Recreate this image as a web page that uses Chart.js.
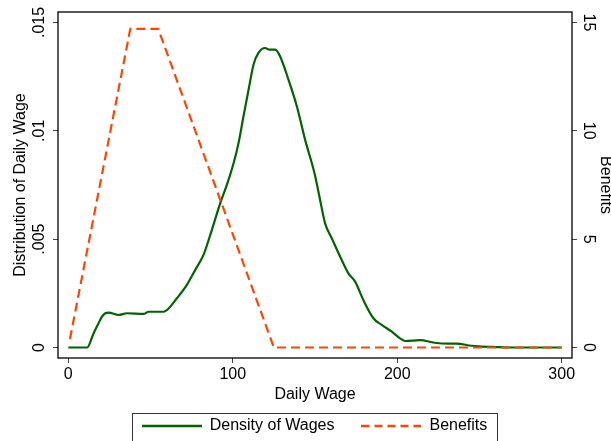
<!DOCTYPE html>
<html><head><meta charset="utf-8">
<script src="https://cdn.jsdelivr.net/npm/chart.js@4/dist/chart.umd.min.js"></script>
<style>html,body{margin:0;padding:0;background:#fff;}canvas{display:block}</style>
</head><body>
<canvas id="c" width="611" height="441"></canvas>
<script>
// ---- data ----
const wageX = [0, 10, 11.5, 15.4, 18.4, 20.5, 22.5, 24.5, 30.6, 35.6, 45.8, 48.8, 57.9, 60, 66, 72.1, 77.2, 82.2, 87.3, 92.4, 96.4, 100.5, 103.5, 106.5, 109.6, 112.6, 115.6, 119.7, 122.3, 125.8, 128.8, 133.9, 139, 144, 149.7, 153.1, 156.1, 160.2, 165.3, 170.3, 174.4, 179.4, 185.5, 190.6, 196.7, 201.7, 205, 213.9, 222.7, 231.5, 236, 245, 250, 260, 270, 300];
const densityY = [0, 0, 0, 0.00066, 0.00112, 0.00142, 0.00158, 0.00161, 0.0015, 0.00158, 0.00155, 0.00165, 0.00165, 0.00173, 0.00227, 0.00289, 0.00358, 0.00427, 0.00543, 0.00666, 0.0075, 0.0085, 0.00943, 0.01066, 0.01189, 0.01305, 0.01359, 0.01382, 0.01374, 0.01374, 0.01343, 0.01235, 0.01112, 0.00958, 0.00804, 0.00681, 0.00574, 0.00504, 0.00419, 0.00342, 0.00304, 0.00219, 0.00135, 0.00104, 0.00073, 0.00042, 0.0003, 0.00034, 0.00022, 0.00018, 0.00018, 0.00008, 0.00005, 0.00002, 0, 0];
const benefitX = [1, 37.7, 54.7, 125, 300];
const benefitY = [0.39, 14.7, 14.7, 0, 0];
const seriesNames = ['Density of Wages', 'Benefits'];
const xTicks = [0, 100, 200, 300];
const yTicks = [0, 0.005, 0.01, 0.015];
const yTickLabels = ['0', '.005', '.01', '.015'];
const y2Ticks = [0, 5, 10, 15];
const y2TickLabels = ['0', '5', '10', '15'];
const xTitle = 'Daily Wage';
const yTitle = 'Distribution of Daily Wage';
const y2Title = 'Benefits';

const FONT = "'Liberation Sans', Arial, Helvetica, sans-serif";
Chart.defaults.font.family = FONT;
Chart.defaults.font.size = 16;
Chart.defaults.color = '#000';

const GREEN = '#006400';
const ORANGE = '#ff4500';

// legend line samples
function lineSample(color, dash) {
  const cv = document.createElement('canvas');
  cv.width = 60; cv.height = 6;
  const g = cv.getContext('2d');
  g.strokeStyle = color; g.lineWidth = 2.4;
  g.setLineDash(dash);
  g.beginPath(); g.moveTo(0, 3); g.lineTo(60, 3); g.stroke();
  return cv;
}

const framePlugin = {
  id: 'framePlugin',
  afterDraw(chart) {
    const {ctx, chartArea: a} = chart;
    ctx.save();
    ctx.strokeStyle = '#000';
    ctx.lineWidth = 1.3;
    ctx.strokeRect(a.left, a.top, a.right - a.left, a.bottom - a.top);
    ctx.font = '16px ' + FONT;
    ctx.fillStyle = '#000';
    ctx.textAlign = 'center';
    ctx.textBaseline = 'middle';
    const ys = chart.scales.y;
    yTicks.forEach((v, i) => {
      const py = ys.getPixelForValue(v);
      ctx.save(); ctx.translate(a.left - 18, py); ctx.rotate(-Math.PI / 2);
      ctx.fillText(yTickLabels[i], 0, 0); ctx.restore();
    });
    const y2s = chart.scales.y2;
    y2Ticks.forEach((v, i) => {
      const py = y2s.getPixelForValue(v);
      ctx.save(); ctx.translate(a.right + 16, py); ctx.rotate(Math.PI / 2);
      ctx.fillText(y2TickLabels[i], 0, 0); ctx.restore();
    });
    // legend frame
    const hb = chart.legend.legendHitBoxes;
    if (hb && hb.length) {
      const first = hb[0], last = hb[hb.length - 1];
      const cy = first.top + first.height / 2;
      ctx.lineWidth = 1;
      ctx.strokeStyle = '#333';
      const l = Math.round(first.left - 10) + 0.5;
      const r = Math.round(last.left + last.width + 10) + 0.5;
      const t = Math.round(cy - 13) + 0.5;
      ctx.strokeRect(l, t, r - l, 40);
    }
    ctx.restore();
  }
};

new Chart(document.getElementById('c'), {
  type: 'line',
  data: {
    datasets: [
      {
        label: seriesNames[0],
        data: wageX.map((x, i) => ({x: x, y: densityY[i]})),
        yAxisID: 'y',
        borderColor: GREEN,
        backgroundColor: GREEN,
        borderWidth: 2.2,
        pointRadius: 0,
        pointStyle: lineSample(GREEN, []),
        cubicInterpolationMode: 'monotone',
        fill: false,
        order: 1
      },
      {
        label: seriesNames[1],
        data: benefitX.map((x, i) => ({x: x, y: benefitY[i]})),
        yAxisID: 'y2',
        borderColor: ORANGE,
        backgroundColor: ORANGE,
        borderWidth: 2.2,
        borderDash: [9, 5],
        pointRadius: 0,
        pointStyle: lineSample(ORANGE, [8, 5]),
        tension: 0,
        fill: false,
        order: 0
      }
    ]
  },
  options: {
    responsive: false,
    animation: false,
    devicePixelRatio: 1,
    layout: {padding: {left: 18, right: 0, top: 12, bottom: -3}},
    plugins: {
      legend: {
        position: 'bottom',
        labels: {
          usePointStyle: true,
          pointStyleWidth: 60,
          boxHeight: 16,
          padding: 27,
          color: '#000',
          font: {size: 16, family: FONT},
          sort: (a, b) => a.datasetIndex - b.datasetIndex
        }
      },
      tooltip: {enabled: false}
    },
    scales: {
      x: {
        type: 'linear',
        position: 'bottom',
        min: -6.26,
        max: 306.26,
        afterBuildTicks: s => { s.ticks = xTicks.map(v => ({value: v})); },
        afterFit: s => { s.height = 33; },
        ticks: {padding: 2, color: '#000', font: {size: 16}, maxRotation: 0, autoSkip: false},
        grid: {drawOnChartArea: false, drawTicks: true, tickLength: 5, color: '#444'},
        border: {display: false},
        title: {display: true, text: xTitle, color: '#000', font: {size: 16}, padding: {top: 0, bottom: -13.6}}
      },
      y: {
        type: 'linear',
        position: 'left',
        min: -0.000485,
        max: 0.01548,
        afterBuildTicks: s => { s.ticks = yTicks.map(v => ({value: v})); },
        afterFit: s => { s.width = 40; },
        ticks: {display: false},
        grid: {drawOnChartArea: false, drawTicks: true, tickLength: 5, color: '#444'},
        border: {display: false},
        title: {display: true, text: yTitle, color: '#000', font: {size: 16}, padding: {top: -6.6, bottom: 0}}
      },
      y2: {
        type: 'linear',
        position: 'right',
        min: -0.485,
        max: 15.48,
        afterBuildTicks: s => { s.ticks = y2Ticks.map(v => ({value: v})); },
        afterFit: s => { s.width = 39; },
        ticks: {display: false},
        grid: {drawOnChartArea: false, drawTicks: true, tickLength: 5, color: '#444'},
        border: {display: false},
        title: {display: true, text: y2Title, color: '#000', font: {size: 16}, padding: {top: -3.6, bottom: 0}}
      }
    }
  },
  plugins: [framePlugin]
});
</script>
</body></html>
